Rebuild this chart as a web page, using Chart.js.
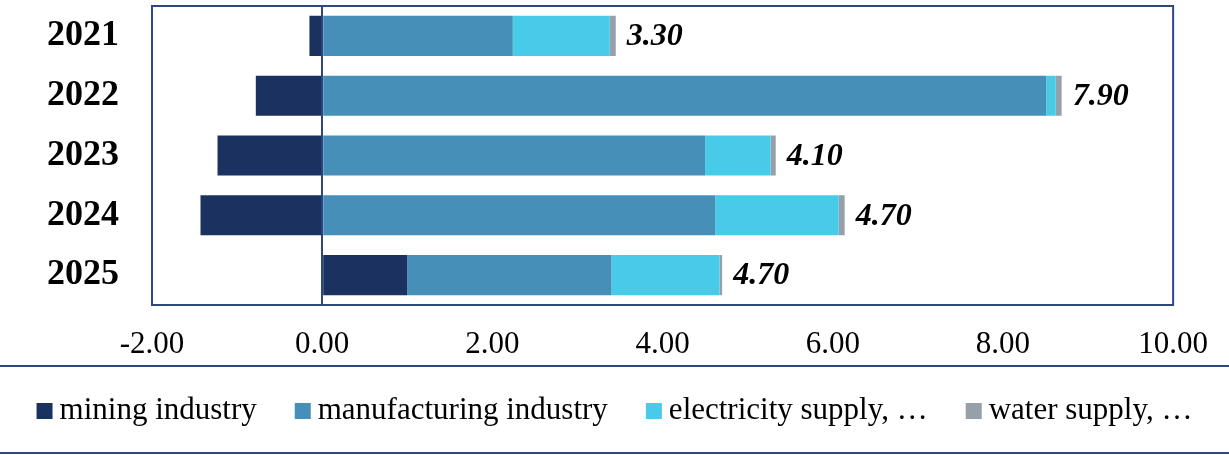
<!DOCTYPE html>
<html>
<head>
<meta charset="utf-8">
<script src="https://cdn.jsdelivr.net/npm/chart.js@4/dist/chart.umd.min.js"></script>
<style>
  html, body { margin: 0; padding: 0; background: #fff; }
  #wrap { width: 1229px; height: 455px; }
</style>
</head>
<body>
<div id="wrap"><canvas id="chart" width="1229" height="455"></canvas></div>
<script>
// data
const years = ["2021", "2022", "2023", "2024", "2025"];
const mining = [-0.15, -0.78, -1.23, -1.43, 1.00];
const manufacturing = [2.24, 8.51, 4.50, 4.62, 2.40];
const electricity = [1.14, 0.11, 0.77, 1.45, 1.27];
const water = [0.07, 0.07, 0.06, 0.07, 0.03];
const totals = [3.30, 7.90, 4.10, 4.70, 4.70];
const xTicks = [-2, 0, 2, 4, 6, 8, 10];

const navy = "#2E4780";
const serif = "'Liberation Serif', 'Times New Roman', serif";
Chart.defaults.font.family = serif;
Chart.defaults.color = "#000";

// frame around plot, total labels, legend with rules above and below
const extras = {
  id: "extras",
  afterDatasetsDraw(chart) {
    const ctx = chart.ctx;
    const a = chart.chartArea;
    ctx.save();
    ctx.strokeStyle = navy;
    ctx.lineWidth = 2;
    ctx.strokeRect(a.left, a.top, a.right - a.left, a.bottom - a.top);

    // totals after the end of each stack
    const last = chart.getDatasetMeta(chart.data.datasets.length - 1);
    ctx.font = "bold italic 32px " + serif;
    ctx.fillStyle = "#000";
    ctx.textAlign = "left";
    ctx.textBaseline = "middle";
    last.data.forEach((bar, i) => {
      ctx.fillText(totals[i].toFixed(2), bar.x + 11, bar.y + 1);
    });

    // rules
    ctx.beginPath();
    ctx.moveTo(0, 366); ctx.lineTo(chart.width, 366);
    ctx.moveTo(0, 453); ctx.lineTo(chart.width, 453);
    ctx.stroke();

    // legend
    ctx.font = "31px " + serif;
    const items = chart.data.datasets;
    const box = 16, gapText = 7, gapItem = 38;
    let total = 0;
    items.forEach((d, i) => {
      total += box + gapText + ctx.measureText(d.label).width + (i < items.length - 1 ? gapItem : 0);
    });
    let x = (chart.width - total) / 2;
    const y = 411;
    items.forEach((d) => {
      ctx.fillStyle = d.backgroundColor;
      ctx.fillRect(x, y - box / 2, box, box);
      ctx.fillStyle = "#000";
      ctx.fillText(d.label, x + box + gapText, y);
      x += box + gapText + ctx.measureText(d.label).width + gapItem;
    });
    ctx.restore();
  }
};

new Chart(document.getElementById("chart"), {
  type: "bar",
  data: {
    labels: years,
    datasets: [
      { label: "mining industry", data: mining, backgroundColor: "#1B3260" },
      { label: "manufacturing industry", data: manufacturing, backgroundColor: "#468FB8" },
      { label: "electricity supply, \u2026", data: electricity, backgroundColor: "#47CBE8" },
      { label: "water supply, \u2026", data: water, backgroundColor: "#979FA8" }
    ]
  },
  options: {
    indexAxis: "y",
    responsive: false,
    animation: false,
    layout: { padding: { top: 6, right: 46, left: 0, bottom: 85 } },
    datasets: { bar: { barPercentage: 0.67, categoryPercentage: 1, borderWidth: 0 } },
    scales: {
      x: {
        stacked: true,
        min: -2,
        max: 10,
        afterBuildTicks: (axis) => { axis.ticks = xTicks.map(v => ({ value: v })); },
        afterFit: (axis) => { axis.height = 65; },
        border: { display: false },
        grid: {
          drawTicks: false,
          color: (c) => (c.tick && c.tick.value === 0 ? navy : "transparent"),
          lineWidth: 2
        },
        ticks: {
          padding: 21,
          autoSkip: false,
          maxRotation: 0,
          font: { size: 31 },
          callback: (v) => Number(v).toFixed(2)
        }
      },
      y: {
        stacked: true,
        afterFit: (axis) => {
          axis.width = 152;
          // tick padding would otherwise push the plot down
          axis.paddingTop = 0;
          axis.paddingBottom = 0;
        },
        border: { display: false },
        grid: { display: false, drawTicks: false },
        ticks: { padding: 33, autoSkip: false, font: { size: 36, weight: "bold" } }
      }
    },
    plugins: {
      legend: { display: false },
      tooltip: { enabled: false }
    }
  },
  plugins: [extras]
});
</script>
</body>
</html>
